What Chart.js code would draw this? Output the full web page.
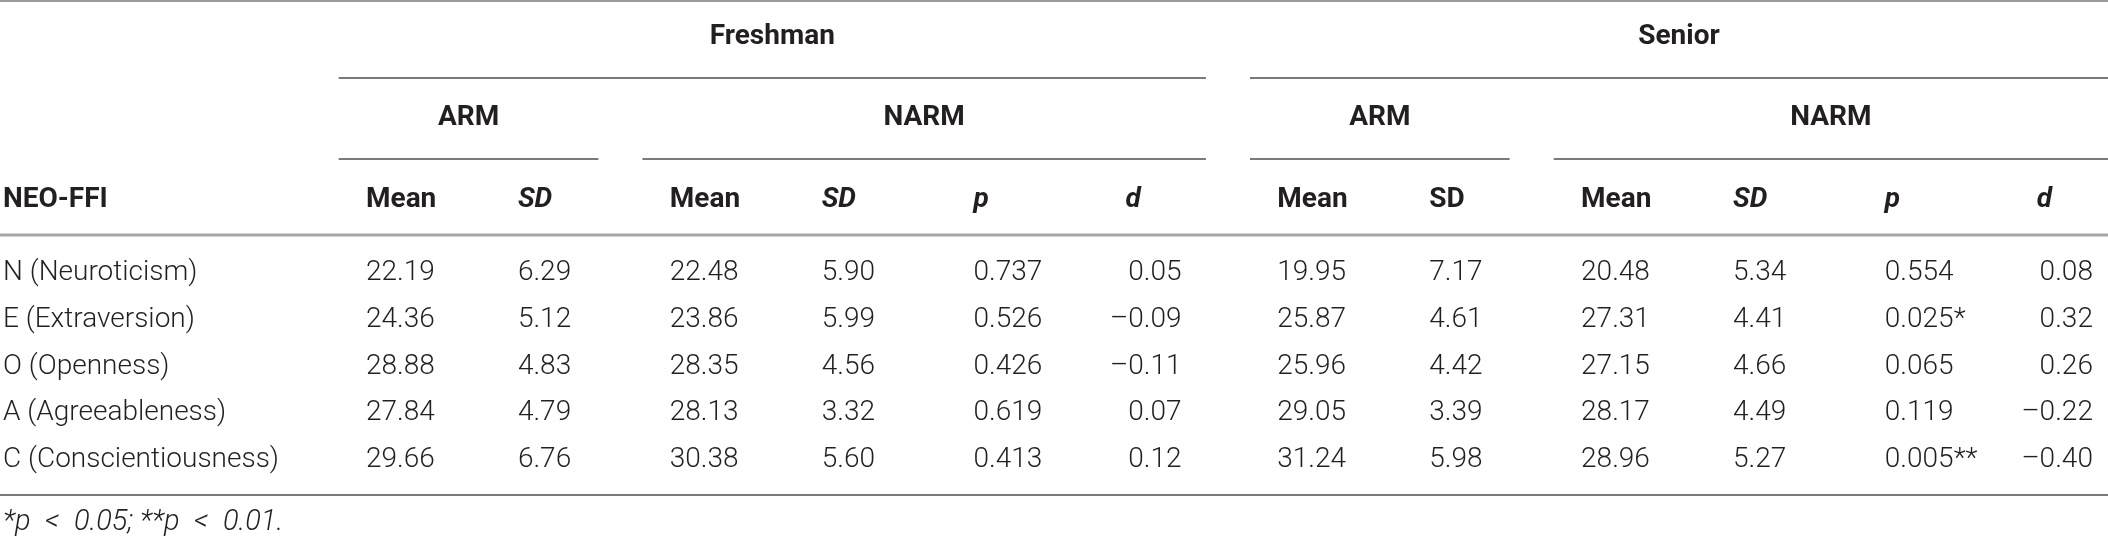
<!DOCTYPE html>
<html>
<head>
<meta charset="utf-8">
<script src="https://cdn.jsdelivr.net/npm/chart.js@4"></script>
<style>
  html, body { margin: 0; padding: 0; background: #fff; }
</style>
</head>
<body>
<canvas id="neoTable" width="2108" height="539"></canvas>
<script>
// ---- data ----
var rowHeader = 'NEO-FFI';
var traits = ['N (Neuroticism)', 'E (Extraversion)', 'O (Openness)', 'A (Agreeableness)', 'C (Conscientiousness)'];
var columns = ['Mean', 'SD', 'Mean', 'SD', 'p', 'd', 'Mean', 'SD', 'Mean', 'SD', 'p', 'd'];
var columnIds = ['F-ARM-Mean', 'F-ARM-SD', 'F-NARM-Mean', 'F-NARM-SD', 'F-p', 'F-d',
                 'S-ARM-Mean', 'S-ARM-SD', 'S-NARM-Mean', 'S-NARM-SD', 'S-p', 'S-d'];
var italicHeaders = [1, 3, 4, 5, 9, 10, 11]; // senior ARM "SD" is upright in the source
var groups = ['Freshman', 'Senior'];
var groupSpans = [[0, 5], [6, 11]];
var subGroups = ['ARM', 'NARM', 'ARM', 'NARM'];
var subSpans = [[0, 1], [2, 5], [6, 7], [8, 11]];

var freshArmMean = [22.19, 24.36, 28.88, 27.84, 29.66];
var freshArmSD = [6.29, 5.12, 4.83, 4.79, 6.76];
var freshNarmMean = [22.48, 23.86, 28.35, 28.13, 30.38];
var freshNarmSD = [5.90, 5.99, 4.56, 3.32, 5.60];
var freshP = [0.737, 0.526, 0.426, 0.619, 0.413];
var freshStars = ['', '', '', '', ''];
var freshD = [0.05, -0.09, -0.11, 0.07, 0.12];

var seniorArmMean = [19.95, 25.87, 25.96, 29.05, 31.24];
var seniorArmSD = [7.17, 4.61, 4.42, 3.39, 5.98];
var seniorNarmMean = [20.48, 27.31, 27.15, 28.17, 28.96];
var seniorNarmSD = [5.34, 4.41, 4.66, 4.49, 5.27];
var seniorP = [0.554, 0.025, 0.065, 0.119, 0.005];
var seniorStars = ['', '*', '', '', '**'];
var seniorD = [0.08, 0.32, 0.26, -0.22, -0.40];

// en spaces around "<" as in the typeset note
var footnote = '*p\u2002<\u20020.05; **p\u2002<\u20020.01.';

// ---- formatting ----
function fmt(v) { return v.toFixed(2); }
function fmtP(stars) { return function(v, i) { return v.toFixed(3) + stars[i]; }; }
function fmtD(v) { return (v < 0 ? '\u2013' : '') + Math.abs(v).toFixed(2); }

var columnValues = [freshArmMean, freshArmSD, freshNarmMean, freshNarmSD, freshP, freshD,
                    seniorArmMean, seniorArmSD, seniorNarmMean, seniorNarmSD, seniorP, seniorD];
var columnFormat = [fmt, fmt, fmt, fmt, fmtP(freshStars), fmtD,
                    fmt, fmt, fmt, fmt, fmtP(seniorStars), fmtD];

var FONT = 'Roboto, "Liberation Sans", Arial, sans-serif';
var INK = '#231f20';

var datasets = columnValues.map(function(vals, c) {
    return {
        label: columnIds[c],
        data: vals.map(function(v, r) { return { x: columnIds[c], y: traits[r] }; }),
        cellText: vals.map(function(v, r) { return columnFormat[c](v, r); }),
        alignRight: columns[c] === 'd',
        showLine: false,
        pointRadius: 0
    };
});

// draws the cell texts, the spanning headers and the rules
var tablePlugin = {
    id: 'tableDrawer',
    afterDatasetsDraw: function(chart) {
        var ctx = chart.ctx;
        var x = chart.scales.x;
        var area = chart.chartArea;
        var step = x.getPixelForValue(1) - x.getPixelForValue(0);
        ctx.save();

        // cells
        ctx.font = '300 28px ' + FONT;
        ctx.fillStyle = INK;
        ctx.textBaseline = 'middle';
        chart.data.datasets.forEach(function(ds, di) {
            var meta = chart.getDatasetMeta(di);
            meta.data.forEach(function(pt, r) {
                if (ds.alignRight) {
                    ctx.textAlign = 'right';
                    ctx.fillText(ds.cellText[r], pt.x + step * 0.37, pt.y);
                } else {
                    ctx.textAlign = 'left';
                    ctx.fillText(ds.cellText[r], pt.x, pt.y);
                }
            });
        });

        function rule(x1, x2, y, color, w) {
            ctx.beginPath();
            ctx.strokeStyle = color;
            ctx.lineWidth = w;
            ctx.moveTo(x1, y);
            ctx.lineTo(x2, y);
            ctx.stroke();
        }
        function spanEdges(span) {
            var a = x.getPixelForValue(span[0]) - step * 0.18;
            var b = Math.min(x.getPixelForValue(span[1]) + step * 0.53, chart.width);
            return [a, b];
        }

        ctx.font = 'bold 28px ' + FONT;
        ctx.fillStyle = INK;
        ctx.textAlign = 'left';
        ctx.fillText(rowHeader, chart.scales.y.left, area.top - 73);

        ctx.textAlign = 'center';
        groups.forEach(function(g, i) {
            var e = spanEdges(groupSpans[i]);
            ctx.fillStyle = INK;
            ctx.fillText(g, (e[0] + e[1]) / 2, area.top - 236);
            rule(e[0], e[1], area.top - 195, '#7a7a7a', 2);
        });
        subGroups.forEach(function(g, i) {
            var e = spanEdges(subSpans[i]);
            ctx.fillStyle = INK;
            ctx.fillText(g, (e[0] + e[1]) / 2, area.top - 155);
            rule(e[0], e[1], area.top - 114, '#7a7a7a', 2);
        });

        rule(0, chart.width, 1, '#9a9a9a', 2);
        rule(0, chart.width, area.top - 38, '#a8a8a8', 3);
        rule(0, chart.width, area.bottom + 35, '#7a7a7a', 2);
        ctx.restore();
    }
};

var chart = new Chart(document.getElementById('neoTable'), {
    type: 'line',
    data: { datasets: datasets },
    options: {
        responsive: false,
        animation: false,
        events: [],
        layout: { padding: { left: 3, right: 67, top: 0, bottom: 0 } },
        scales: {
            x: {
                type: 'category',
                labels: columnIds,
                position: 'top',
                offset: false,
                grid: { display: false, drawTicks: false },
                border: { display: false },
                afterFit: function(scale) { scale.height = 273; },
                ticks: {
                    autoSkip: false,
                    maxRotation: 0,
                    minRotation: 0,
                    align: 'start',
                    padding: 56,
                    color: INK,
                    callback: function(value, index) { return columns[index]; },
                    font: function(c) {
                        return {
                            family: FONT,
                            size: 28,
                            weight: 'bold',
                            style: italicHeaders.indexOf(c.index) >= 0 ? 'italic' : 'normal'
                        };
                    }
                }
            },
            y: {
                type: 'category',
                labels: traits,
                offset: false,
                grid: { display: false, drawTicks: false },
                border: { display: false },
                afterFit: function(scale) { scale.width = 363; },
                ticks: {
                    autoSkip: false,
                    crossAlign: 'far',
                    color: INK,
                    font: { family: FONT, size: 28, weight: '300' }
                }
            }
        },
        plugins: {
            legend: { display: false },
            tooltip: { enabled: false },
            title: {
                display: true,
                position: 'bottom',
                align: 'start',
                text: footnote,
                color: INK,
                font: { family: FONT, size: 29, style: 'italic', weight: '300', lineHeight: 1.1 },
                padding: { top: 47, bottom: 0 }
            }
        }
    },
    plugins: [tablePlugin]
});
</script>
</body>
</html>
